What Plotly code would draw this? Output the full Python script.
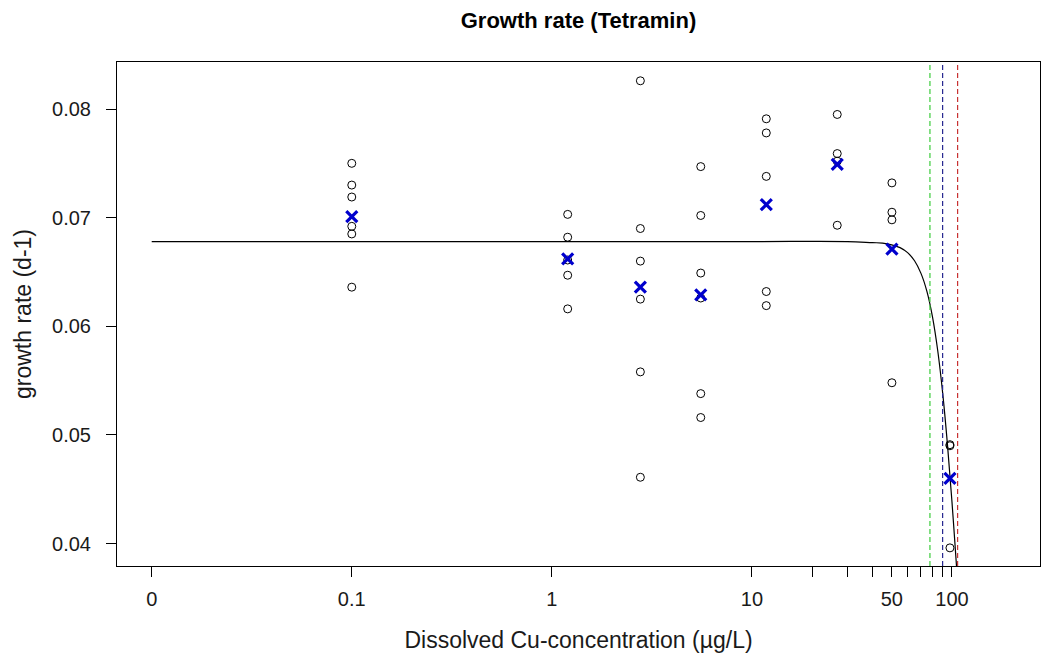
import plotly.graph_objects as go

# Observed replicate growth rates per concentration (µg/L); 0 is drawn at 0.01
conc_0_1 = [0.1] * 6
rate_0_1 = [0.0750, 0.0730, 0.0719, 0.0692, 0.0685, 0.0636]
conc_1_2 = [1.2] * 5
rate_1_2 = [0.0703, 0.0682, 0.0661, 0.0647, 0.0616]
conc_2_8 = [2.77] * 6
rate_2_8 = [0.0826, 0.0690, 0.0660, 0.0625, 0.0558, 0.0461]
conc_5_5 = [5.55] * 6
rate_5_5 = [0.0747, 0.0702, 0.0649, 0.0626, 0.0538, 0.0516]
conc_12 = [11.8] * 5
rate_12 = [0.0791, 0.0778, 0.0738, 0.0632, 0.0619]
conc_27 = [26.7] * 4
rate_27 = [0.0795, 0.0759, 0.0752, 0.0693]
conc_50 = [50.1] * 4
rate_50 = [0.0732, 0.0705, 0.0698, 0.0548]
conc_98 = [97.7] * 3
rate_98 = [0.0491, 0.0490, 0.0396]

# Group summary (blue crosses)
mean_conc = [0.1, 1.2, 2.77, 5.55, 11.8, 26.7, 50.1, 97.7]
mean_rate = [0.0701, 0.0662, 0.0636, 0.0629, 0.0712, 0.0749, 0.0671, 0.0460]

# Fitted dose-response curve
curve_conc = [0.01, 1, 10, 30, 40, 45, 50, 55, 60, 65, 70, 75, 80, 85, 90, 95, 100, 105, 106]
curve_rate = [0.0678, 0.0678, 0.0678, 0.0678, 0.0677, 0.06766, 0.0675, 0.06724, 0.06678,
              0.06603, 0.06487, 0.06319, 0.06082, 0.05768, 0.05373, 0.04906, 0.04383,
              0.03831, 0.0372]

# Effect concentrations (vertical dashed lines)
ec_values = [77.6, 89.8, 106.7]
ec_colors = ["#3ccc3c", "#262690", "#c83232"]

# Axis ticks
x_tickvals = [0.01, 0.1, 1, 10, 20, 30, 40, 50, 60, 70, 80, 90, 100]
x_ticktext = ["0", "0.1", "1", "10", "", "", "", "50", "", "", "", "", "100"]
y_tickvals = [0.04, 0.05, 0.06, 0.07, 0.08]
y_ticktext = ["0.04", "0.05", "0.06", "0.07", "0.08"]

obs_x = conc_0_1 + conc_1_2 + conc_2_8 + conc_5_5 + conc_12 + conc_27 + conc_50 + conc_98
obs_y = rate_0_1 + rate_1_2 + rate_2_8 + rate_5_5 + rate_12 + rate_27 + rate_50 + rate_98

FONT = "Liberation Sans, Arial, sans-serif"
TXT = "#1a1a1a"

fig = go.Figure()

fig.add_trace(go.Scatter(
    x=curve_conc, y=curve_rate, mode="lines", line=dict(color="black", width=1.2, shape="spline"),
    showlegend=False, hoverinfo="skip"))

fig.add_trace(go.Scatter(
    x=obs_x, y=obs_y, mode="markers",
    marker=dict(symbol="circle-open", size=8, color="black", line=dict(width=1)),
    showlegend=False))

fig.add_trace(go.Scatter(
    x=mean_conc, y=mean_rate, mode="markers",
    marker=dict(symbol="x-thin", size=11, color="#0000cd", line=dict(width=3.2, color="#0000cd")),
    showlegend=False))

for v, c in zip(ec_values, ec_colors):
    fig.add_shape(type="line", xref="x", yref="paper", x0=v, x1=v, y0=0, y1=1,
                  line=dict(color=c, width=1.2, dash="5px,3px"))

fig.update_layout(
    width=1042, height=659,
    margin=dict(l=117, r=2, t=62, b=93),
    paper_bgcolor="white", plot_bgcolor="white",
    font=dict(family=FONT, color=TXT, size=20),
    title=dict(text="<b>Growth rate (Tetramin)</b>", x=(117 + 1040) / 2 / 1042, xanchor="center",
               y=1 - 20 / 659, yanchor="middle", yref="container",
               font=dict(size=22, family=FONT, color="black")),
)

fig.update_xaxes(
    type="log", range=[-2.1735, 2.44],
    tickmode="array", tickvals=x_tickvals, ticktext=x_ticktext,
    ticks="outside", ticklen=10, tickwidth=1, tickcolor="black",
    showline=True, linecolor="black", linewidth=1, mirror=True,
    showgrid=False, zeroline=False,
    tickfont=dict(size=20, family=FONT, color=TXT),
    ticklabelstandoff=5,
    title=dict(text="Dissolved Cu-concentration (µg/L)", font=dict(size=23, family=FONT, color=TXT),
               standoff=22),
)

fig.update_yaxes(
    range=[0.03793, 0.08433],
    tickmode="array", tickvals=y_tickvals, ticktext=y_ticktext,
    ticks="outside", ticklen=10, tickwidth=1, tickcolor="black",
    showline=True, linecolor="black", linewidth=1, mirror=True,
    showgrid=False, zeroline=False,
    tickfont=dict(size=20, family=FONT, color=TXT),
    ticklabelstandoff=11,
    title=dict(text="growth rate (d-1)", font=dict(size=23, family=FONT, color=TXT), standoff=14),
)

fig.write_html("out.html", post_script="document.body.style.margin='0';",
               config={"displayModeBar": False})
